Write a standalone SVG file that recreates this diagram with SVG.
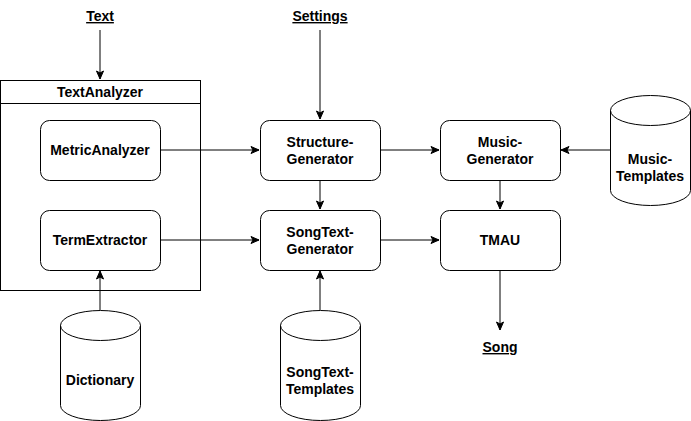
<svg xmlns="http://www.w3.org/2000/svg" width="691" height="421" viewBox="0 0 691 421">
<defs>
<style>
.box{fill:#fff;stroke:#000;stroke-width:1}
.t{font-family:"Liberation Sans",Arial,sans-serif;font-size:14px;font-weight:bold;fill:#000;text-anchor:middle}
.u{text-decoration:underline}
.c{fill:none;stroke:#000;stroke-width:1}
</style>
<marker id="a" viewBox="0 0 10 10" refX="9" refY="5" markerWidth="10" markerHeight="10" markerUnits="userSpaceOnUse" orient="auto">
<path d="M1,1.5 L9,5 L1,8.5 L3,5 Z" fill="#000" stroke="#000" stroke-width="1"/>
</marker>
</defs>
<rect width="691" height="421" fill="#fff"/>
<g id="text-in"><text class="t u" x="100" y="21">Text</text></g>
<g id="settings"><text class="t u" x="320" y="21">Settings</text></g>
<g id="song"><text class="t u" x="500" y="352">Song</text></g>
<g id="textanalyzer">
<rect class="box" x="0.5" y="80.5" width="200" height="210"/>
<line class="c" x1="0.5" y1="103.5" x2="200.5" y2="103.5"/>
<text class="t" x="100" y="97">TextAnalyzer</text>
</g>
<g id="metricanalyzer">
<rect class="box" x="40.5" y="120.5" width="120" height="60" rx="9"/>
<text class="t" x="100" y="155">MetricAnalyzer</text>
</g>
<g id="termextractor">
<rect class="box" x="40.5" y="210.5" width="120" height="60" rx="9"/>
<text class="t" x="100" y="245">TermExtractor</text>
</g>
<g id="structuregenerator">
<rect class="box" x="260.5" y="120.5" width="120" height="60" rx="9"/>
<text class="t" x="320" y="147">Structure-</text>
<text class="t" x="320" y="164">Generator</text>
</g>
<g id="songtextgenerator">
<rect class="box" x="260.5" y="210.5" width="120" height="60" rx="9"/>
<text class="t" x="320" y="237">SongText-</text>
<text class="t" x="320" y="254">Generator</text>
</g>
<g id="musicgenerator">
<rect class="box" x="440.5" y="120.5" width="120" height="60" rx="9"/>
<text class="t" x="500" y="147">Music-</text>
<text class="t" x="500" y="164">Generator</text>
</g>
<g id="tmau">
<rect class="box" x="440.5" y="210.5" width="120" height="60" rx="9"/>
<text class="t" x="500" y="245">TMAU</text>
</g>
<g id="musictemplates">
<path class="box" d="M610.5,110.5 A40,15 0 0 1 690.5,110.5 V190.5 A40,15 0 0 1 610.5,190.5 Z"/>
<path class="c" d="M610.5,110.5 A40,15 0 0 0 690.5,110.5"/>
<text class="t" x="650" y="164">Music-</text>
<text class="t" x="650" y="181">Templates</text>
</g>
<g id="dictionary">
<path class="box" d="M60.5,325.5 A40,15 0 0 1 140.5,325.5 V405.5 A40,15 0 0 1 60.5,405.5 Z"/>
<path class="c" d="M60.5,325.5 A40,15 0 0 0 140.5,325.5"/>
<text class="t" x="100" y="385">Dictionary</text>
</g>
<g id="songtexttemplates">
<path class="box" d="M280.5,325.5 A40,15 0 0 1 360.5,325.5 V405.5 A40,15 0 0 1 280.5,405.5 Z"/>
<path class="c" d="M280.5,325.5 A40,15 0 0 0 360.5,325.5"/>
<text class="t" x="320" y="377">SongText-</text>
<text class="t" x="320" y="394">Templates</text>
</g>
<g id="connectors">
<path class="c" d="M100,30 V79" marker-end="url(#a)"/>
<path class="c" d="M320,30 V119" marker-end="url(#a)"/>
<path class="c" d="M160,150 H259" marker-end="url(#a)"/>
<path class="c" d="M160,240 H259" marker-end="url(#a)"/>
<path class="c" d="M380,150 H439" marker-end="url(#a)"/>
<path class="c" d="M380,240 H439" marker-end="url(#a)"/>
<path class="c" d="M320,180 V209" marker-end="url(#a)"/>
<path class="c" d="M500,180 V209" marker-end="url(#a)"/>
<path class="c" d="M610,150 H561" marker-end="url(#a)"/>
<path class="c" d="M500,270 V330" marker-end="url(#a)"/>
<path class="c" d="M100,310 V271" marker-end="url(#a)"/>
<path class="c" d="M320,310 V271" marker-end="url(#a)"/>
</g>
</svg>
